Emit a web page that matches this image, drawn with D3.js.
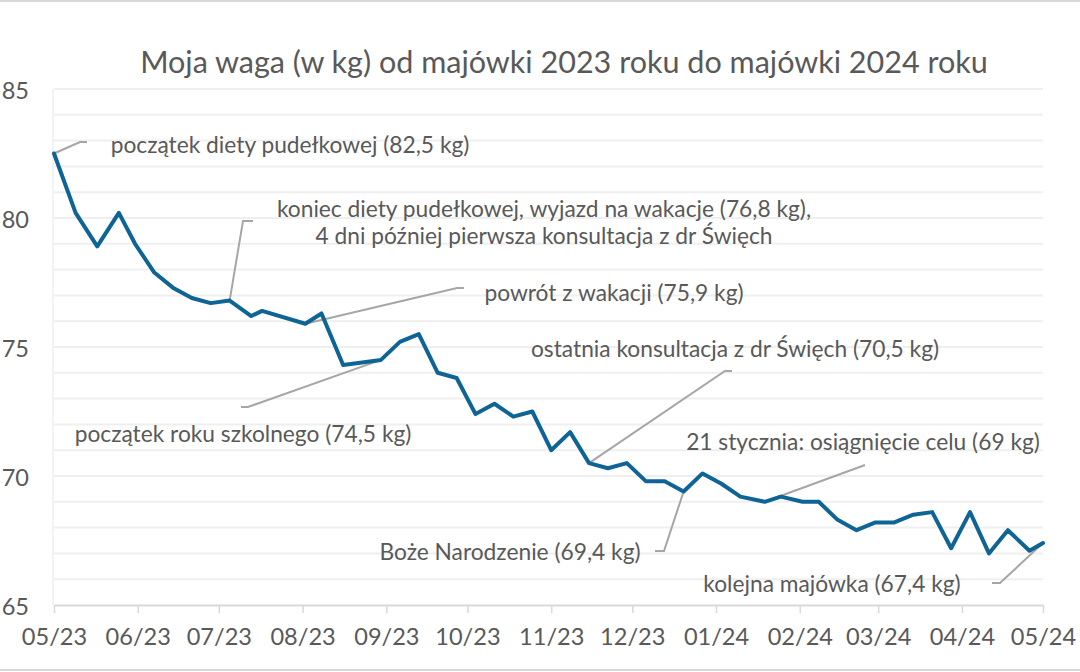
<!DOCTYPE html>
<html>
<head>
<meta charset="utf-8">
<script src="https://cdn.jsdelivr.net/npm/d3@7"></script>
<style>
  html, body { margin: 0; padding: 0; background: #fff; }
  svg { display: block; }
</style>
</head>
<body>
<div id="chart"></div>
<script>
// Weight log, May 2023 -> May 2024 (kg)

const TITLE = 'Moja waga (w kg) od majówki 2023 roku do majówki 2024 roku';

const dates = [
    '2023-05-01','2023-05-09','2023-05-17','2023-05-25','2023-05-31',
    '2023-06-07','2023-06-14','2023-06-21','2023-06-28','2023-07-05',
    '2023-07-13','2023-07-17','2023-08-02','2023-08-08','2023-08-16',
    '2023-08-30','2023-09-06','2023-09-13','2023-09-20','2023-09-27',
    '2023-10-04','2023-10-11','2023-10-18','2023-10-25','2023-11-01',
    '2023-11-08','2023-11-15','2023-11-22','2023-11-29','2023-12-06',
    '2023-12-13','2023-12-20','2023-12-27','2024-01-03','2024-01-10',
    '2024-01-19','2024-01-25','2024-02-02','2024-02-08','2024-02-15',
    '2024-02-22','2024-02-29','2024-03-07','2024-03-14','2024-03-21',
    '2024-03-28','2024-04-04','2024-04-11','2024-04-18','2024-04-26',
    '2024-05-01'
];

const weights = [
    82.5, 80.2, 78.9, 80.2, 79.0,
    77.9, 77.3, 76.9, 76.7, 76.8,
    76.2, 76.4, 75.9, 76.3, 74.3,
    74.5, 75.2, 75.5, 74.0, 73.8,
    72.4, 72.8, 72.3, 72.5, 71.0,
    71.7, 70.5, 70.3, 70.5, 69.8,
    69.8, 69.4, 70.1, 69.7, 69.2,
    69.0, 69.2, 69.0, 69.0, 68.3,
    67.9, 68.2, 68.2, 68.5, 68.6,
    67.2, 68.6, 67.0, 67.9, 67.1,
    67.4
];

const yTicks = [65, 70, 75, 80, 85];

// annotation text, keyed by the date of the point it points at
const noteDates = ['2023-05-01','2023-07-05','2023-08-02','2023-08-30','2023-11-15','2024-01-19','2023-12-20','2024-05-01'];
const noteTexts = [
    ['początek diety pudełkowej (82,5 kg)'],
    ['koniec diety pudełkowej, wyjazd na wakacje (76,8 kg),', '4 dni później pierwsza konsultacja z dr Święch'],
    ['powrót z wakacji (75,9 kg)'],
    ['początek roku szkolnego (74,5 kg)'],
    ['ostatnia konsultacja z dr Święch (70,5 kg)'],
    ['21 stycznia: osiągnięcie celu (69 kg)'],
    ['Boże Narodzenie (69,4 kg)'],
    ['kolejna majówka (67,4 kg)']
];

// label placement (pixels): leader elbow + tail, text centre
const noteLayout = [
    { elbow: [80, 142], tail: [87, 142], tx: 290, ty: 144 },
    { elbow: [243, 221], tail: [253, 221], tx: 544, ty: 208 },
    { elbow: [457, 288], tail: [464, 288], tx: 614, ty: 292 },
    { elbow: [248, 407], tail: [241, 407], tx: 243, ty: 433 },
    { elbow: [725, 371], tail: [732, 371], tx: 735, ty: 348 },
    { elbow: [865, 465], tail: null, tx: 863, ty: 441 },
    { elbow: [664, 551], tail: [655, 551], tx: 510, ty: 551 },
    { elbow: [1000, 583], tail: [992, 583], tx: 832, ty: 583 }
];

const W = 1080, H = 672;
const FONT = 'Lato, "Open Sans", "DejaVu Sans", sans-serif';
const TXT = '#595959';

const parse = d3.timeParse('%Y-%m-%d');
const data = dates.map((d, i) => ({ date: parse(d), kg: weights[i] }));

const svg = d3.select('#chart').append('svg')
    .attr('width', W).attr('height', H)
    .style('font-family', FONT);

// chart area border (only top/bottom edges are visible in the frame)
svg.append('line').attr('x1', 0).attr('x2', W).attr('y1', 1).attr('y2', 1)
    .attr('stroke', '#d9d9d9').attr('stroke-width', 2);
svg.append('line').attr('x1', 0).attr('x2', W).attr('y1', 670).attr('y2', 670)
    .attr('stroke', '#d9d9d9').attr('stroke-width', 2);

const x = d3.scaleTime()
    .domain([parse('2023-05-01'), parse('2024-05-01')])
    .range([54, 1043]);
const y = d3.scaleLinear().domain([65, 85]).range([605, 89]);

// fit a text element to a target pixel width, returns the font size used
function fitText(sel, target, base = 20) {
    sel.attr('font-size', base);
    const len = sel.node().getComputedTextLength();
    const fs = base * target / len;
    sel.attr('font-size', fs);
    return fs;
}

// horizontal gridlines every kg
const grid = svg.append('g');
grid.selectAll('line').data(d3.range(66, 86))
    .join('line')
    .attr('x1', 54).attr('x2', 1043)
    .attr('y1', d => y(d)).attr('y2', d => y(d))
    .attr('stroke', '#efefef').attr('stroke-width', 2);
grid.append('line')
    .attr('x1', 53).attr('x2', 53).attr('y1', y(85)).attr('y2', y(65))
    .attr('stroke', '#efefef').attr('stroke-width', 1.5);

// x axis
const xAxis = svg.append('g')
    .attr('transform', `translate(0,${y(65)})`)
    .call(d3.axisBottom(x).ticks(d3.timeMonth.every(1)).tickFormat(d3.timeFormat('%m/%y'))
        .tickSizeInner(8).tickSizeOuter(0).tickPadding(10));
xAxis.select('.domain').attr('stroke', '#d9d9d9').attr('stroke-width', 2);
xAxis.selectAll('.tick line').attr('stroke', '#d9d9d9').attr('stroke-width', 1.5);
const tickFs = fitText(xAxis.select('.tick text'), 59);
xAxis.selectAll('.tick text')
    .attr('font-size', tickFs).attr('font-family', FONT)
    .attr('fill', TXT).attr('dy', null).attr('y', 31)
    .attr('dominant-baseline', 'central');

// y axis labels
const yAxis = svg.append('g')
    .attr('transform', 'translate(29,0)')
    .call(d3.axisLeft(y).tickValues(yTicks).tickSize(0).tickPadding(0));
yAxis.select('.domain').remove();
yAxis.selectAll('.tick text')
    .attr('font-size', tickFs).attr('font-family', FONT)
    .attr('fill', TXT).attr('dy', null).attr('dominant-baseline', 'central');

// title
const title = svg.append('text')
    .attr('x', 564).attr('y', 61)
    .attr('text-anchor', 'middle').attr('dominant-baseline', 'central')
    .attr('fill', TXT)
    .text(TITLE);
fitText(title, 848);

// leaders under the series line
const leaders = svg.append('g');
const notes = svg.append('g');
let noteFs = null;
noteDates.forEach((nd, i) => {
    const p = data.find(d => +d.date === +parse(nd));
    const L = noteLayout[i];
    const pts = [[x(p.date), y(p.kg)], L.elbow];
    if (L.tail) pts.push(L.tail);
    leaders.append('path')
        .attr('d', d3.line()(pts))
        .attr('fill', 'none').attr('stroke', '#a6a6a6').attr('stroke-width', 2);

    const lines = noteTexts[i];
    lines.forEach((t, k) => {
        const tEl = notes.append('text')
            .attr('x', L.tx).attr('y', L.ty + k * 27)
            .attr('text-anchor', 'middle').attr('dominant-baseline', 'central')
            .attr('fill', TXT)
            .text(t);
        if (noteFs === null) noteFs = fitText(tEl, 359);
        else tEl.attr('font-size', noteFs);
    });
});

// series line
svg.append('path')
    .datum(data)
    .attr('d', d3.line().x(d => x(d.date)).y(d => y(d.kg)))
    .attr('fill', 'none')
    .attr('stroke', '#0f6496').attr('stroke-width', 4)
    .attr('stroke-linejoin', 'round').attr('stroke-linecap', 'round');

notes.raise();
</script>
</body>
</html>
